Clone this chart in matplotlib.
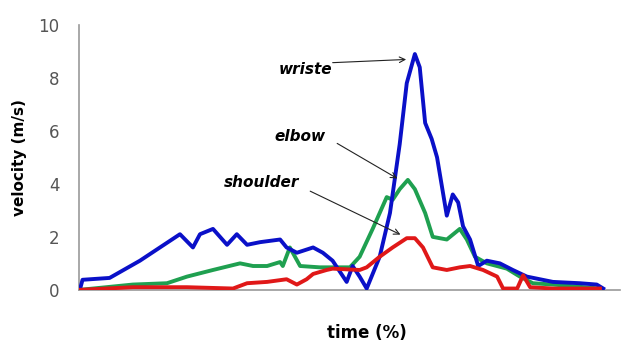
import matplotlib.pyplot as plt

# time (%) and velocity (m/s)
t_wrist = [0.2, 0.7, 5.7, 11.3, 15.0, 18.7, 21.1, 22.4, 24.8, 27.4, 29.2, 31.1, 33.5,
           37.2, 38.4, 40.3, 43.3, 45.1, 46.9, 49.5, 50.6, 51.9, 53.2, 55.6, 57.5, 59.3,
           60.6, 62.1, 63.0, 64.0, 65.2, 66.2, 68.0, 69.1, 70.1, 71.0, 72.3, 73.8, 75.4,
           77.8, 80.2, 82.8, 87.6, 92.6, 95.7, 96.9]
v_wrist = [0.0, 0.38, 0.45, 1.1, 1.6, 2.1, 1.6, 2.1, 2.3, 1.7, 2.1, 1.7, 1.8,
           1.9, 1.6, 1.4, 1.6, 1.4, 1.1, 0.3, 0.9, 0.5, 0.05, 1.25, 2.9, 5.5,
           7.8, 8.9, 8.4, 6.3, 5.7, 5.0, 2.8, 3.6, 3.3, 2.4, 1.9, 0.9, 1.1,
           1.0, 0.75, 0.5, 0.3, 0.25, 0.2, 0.05]

t_elbow = [0.2, 10.0, 16.3, 20.0, 24.8, 29.8, 32.2, 34.8, 37.2, 37.7, 39.0, 40.9, 44.5,
           50.1, 51.9, 54.3, 56.9, 58.0, 59.3, 60.8, 62.1, 64.0, 65.4, 68.0, 70.4, 71.7,
           73.2, 75.4, 79.1, 81.5, 83.9, 87.6, 96.3]
v_elbow = [0.0, 0.2, 0.25, 0.5, 0.75, 1.0, 0.9, 0.9, 1.05, 0.9, 1.6, 0.9, 0.85,
           0.85, 1.25, 2.3, 3.5, 3.4, 3.8, 4.15, 3.8, 2.9, 2.0, 1.9, 2.3, 1.9,
           1.25, 1.0, 0.8, 0.5, 0.25, 0.2, 0.05]

t_shoulder = [0.2, 10.0, 20.0, 28.5, 31.1, 34.8, 38.4, 40.3, 42.1, 43.3, 45.8, 46.9,
              51.9, 53.2, 55.6, 58.0, 60.6, 62.1, 63.6, 65.4, 68.0, 70.4, 72.3, 74.7,
              77.3, 78.4, 81.0, 82.1, 83.4, 87.6, 96.3]
v_shoulder = [0.0, 0.1, 0.1, 0.05, 0.25, 0.3, 0.4, 0.2, 0.4, 0.6, 0.75, 0.8,
              0.75, 0.85, 1.25, 1.6, 1.95, 1.95, 1.6, 0.85, 0.75, 0.85, 0.9, 0.75,
              0.5, 0.05, 0.05, 0.55, 0.1, 0.05, 0.05]

yticks = [0, 2, 4, 6, 8, 10]


def main():
    fig = plt.figure(figsize=(6.25, 3.41), dpi=100)
    ax = fig.add_axes([0.126, 0.15, 0.866, 0.777])

    ax.plot(t_wrist, v_wrist, color='#0a10c8', lw=2.8, zorder=3)
    ax.plot(t_elbow, v_elbow, color='#1fa050', lw=2.8, zorder=2)
    ax.plot(t_shoulder, v_shoulder, color='#e01818', lw=2.8, zorder=4)

    ax.set_xlim(0, 100)
    ax.set_ylim(0, 10)
    ax.set_yticks(yticks)
    ax.set_xticks([])
    ax.tick_params(axis='y', length=0, labelsize=12, labelcolor='#555555', pad=14)

    for s in ['top', 'right']:
        ax.spines[s].set_visible(False)
    for s in ['left', 'bottom']:
        ax.spines[s].set_color('#999999')
        ax.spines[s].set_linewidth(1.2)

    ax.set_ylabel('velocity (m/s)', fontsize=11, fontweight='bold', labelpad=8)
    ax.set_xlabel('time (%)', fontsize=12, fontweight='bold', labelpad=20)
    ax.xaxis.set_label_coords(0.532, -0.13)

    arrow = dict(arrowstyle='->', color='#222222', lw=0.8)
    font = dict(fontsize=11, fontweight='bold', fontstyle='italic', ha='center', va='center')
    ax.text(41.8, 8.3, 'wriste', **font)
    ax.annotate('', xy=(61.0, 8.7), xytext=(46.4, 8.57), arrowprops=arrow)
    ax.text(40.9, 5.77, 'elbow', **font)
    ax.annotate('', xy=(59.3, 4.15), xytext=(47.3, 5.58), arrowprops=arrow)
    ax.text(33.8, 4.04, 'shoulder', **font)
    ax.annotate('', xy=(59.9, 2.04), xytext=(42.3, 3.77), arrowprops=arrow)

    fig.savefig('out.png', dpi=100)


if __name__ == '__main__':
    main()
